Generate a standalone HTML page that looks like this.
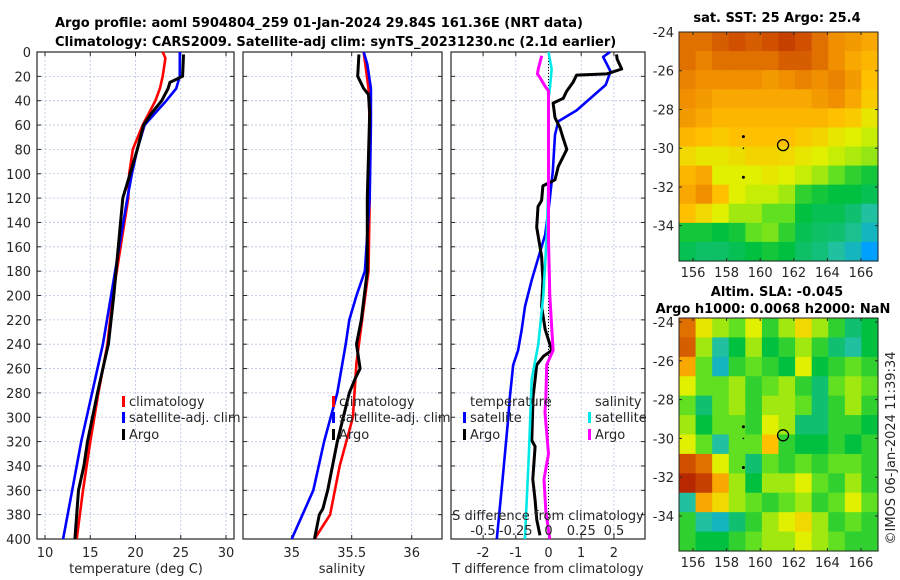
<!DOCTYPE html>
<html><head><meta charset="utf-8"><style>
body{margin:0;background:#fff;}
svg{display:block;font-family:"DejaVu Sans","Liberation Sans",sans-serif;}
</style></head><body>
<svg id="c" width="900" height="580" viewBox="0 0 900 580"></svg>
<script>
// ---------- data ----------
const depthTicks=[0,20,40,60,80,100,120,140,160,180,200,220,240,260,280,300,320,340,360,380,400];
const tempTicks=[10,15,20,25,30];
const salTicks=[35,35.5,36];
const tdiffTicks=[-2,-1,0,1,2];
const sdiffTicks=[-0.5,-0.25,0,0.25,0.5];
const sdiffTickLabels=["-0.5","-0.25","0","0.25","0.5"];
const lonTicks=[156,158,160,162,164,166];
const latTicks=[-24,-26,-28,-30,-32,-34];

const climTDepth=[0,5,20,30,40,50,60,80,100,120,200,240,280,320,360,400];
const climT=[23.0,23.3,23.0,22.7,22.2,21.5,20.8,19.7,19.3,19.2,17.5,16.9,15.9,15.0,14.2,13.5];
const satTDepth=[0,20,30,40,50,60,80,100,120,200,240,280,320,360,400];
const satT=[24.9,24.9,24.5,23.4,22.2,21.0,20.2,19.6,19.1,17.3,16.4,15.2,14.0,13.0,12.0];
const argoTDepth=[2,20,25,30,40,50,60,80,100,120,160,200,240,250,280,320,340,360,380,400];
const argoT=[25.3,25.2,23.8,23.6,22.9,21.8,20.9,20.2,19.4,18.6,18.1,17.6,17.0,16.7,15.8,14.7,14.3,13.7,13.5,13.3];

const climSDepth=[0,30,60,120,180,255,300,340,380,400];
const climS=[35.6,35.64,35.65,35.65,35.64,35.54,35.51,35.40,35.32,35.19];
const satSDepth=[0,10,30,60,120,180,200,220,240,280,320,360,380,400];
const satS=[35.6,35.63,35.66,35.66,35.65,35.61,35.54,35.48,35.45,35.38,35.27,35.18,35.09,35.0];
const argoSDepth=[2,20,30,35,50,120,180,220,240,260,268,280,320,360,375,380,400];
const argoS=[35.56,35.55,35.6,35.64,35.65,35.63,35.63,35.58,35.54,35.57,35.53,35.48,35.38,35.3,35.26,35.23,35.19];

const satTdDepth=[0,4,16,27,48,57,68,98,125,150,187,209,228,245,257,283,300,350,400];
const satTd=[1.88,1.67,1.9,1.75,0.86,0.3,0.2,0.13,0.02,-0.1,-0.51,-0.72,-0.82,-0.93,-1.08,-1.18,-1.23,-1.4,-1.58];
const argoTdDepth=[2,6,14,18,19,25,32,38,42,54,62,71,80,94,105,110,122,127,144,168,187,209,228,245,250,257,269,283,319,324,351,368,384,397];
const argoTd=[2.08,2.1,2.24,1.78,0.86,0.75,0.56,0.45,0.14,0.2,0.35,0.45,0.56,0.3,0.2,-0.17,-0.21,-0.32,-0.36,-0.21,-0.17,-0.21,-0.1,0.1,-0.16,-0.36,-0.41,-0.47,-0.51,-0.41,-0.48,-0.41,-0.36,-0.26];
const satSdDepth=[0,14,28,38,98,152,200,240,269,330,400];
const satSd=[0,0.024,0.012,0,0.002,-0.014,-0.04,-0.078,-0.128,-0.15,-0.18];
const argoSdDepth=[3,14,18,21,28,32,72,154,200,245,257,283,296,330,351,378,400];
const argoSd=[-0.052,-0.078,-0.085,-0.065,-0.027,0,0,0,0.01,0.035,-0.014,-0.02,-0.027,0,-0.034,-0.02,0.01];

const sstGrid=[
[.85,.85,.88,.9,.88,.9,.92,.9,.85,.8,.78,.75],
[.85,.82,.85,.85,.85,.85,.88,.88,.85,.8,.75,.72],
[.82,.8,.8,.8,.8,.78,.8,.82,.8,.82,.78,.7],
[.8,.78,.75,.75,.75,.75,.75,.75,.78,.8,.75,.68],
[.78,.75,.72,.72,.72,.72,.72,.72,.72,.7,.68,.62],
[.72,.7,.68,.7,.7,.7,.7,.68,.66,.62,.6,.58],
[.65,.62,.62,.64,.66,.66,.65,.62,.6,.58,.56,.54],
[.72,.75,.6,.6,.6,.62,.6,.58,.55,.5,.45,.42],
[.75,.8,.7,.6,.58,.58,.55,.45,.42,.4,.4,.38],
[.7,.65,.6,.55,.55,.5,.5,.4,.38,.38,.35,.3],
[.42,.42,.4,.42,.5,.52,.45,.38,.36,.35,.32,.25],
[.38,.36,.36,.38,.4,.42,.4,.36,.34,.3,.25,.15]];
const slaGrid=[
[.85,.62,.55,.5,.6,.45,.55,.65,.55,.45,.35,.4],
[.88,.55,.3,.4,.55,.4,.45,.55,.45,.35,.3,.4],
[.75,.5,.25,.45,.5,.45,.4,.6,.4,.45,.5,.45],
[.6,.5,.5,.55,.45,.5,.55,.45,.35,.5,.55,.5],
[.5,.35,.5,.55,.45,.55,.55,.5,.35,.45,.55,.45],
[.55,.4,.5,.5,.45,.6,.55,.35,.35,.45,.45,.4],
[.6,.5,.3,.5,.5,.7,.45,.4,.4,.45,.4,.45],
[.9,.85,.6,.5,.35,.5,.45,.5,.45,.5,.5,.45],
[.95,.92,.75,.55,.4,.55,.55,.6,.5,.45,.55,.45],
[.3,.75,.65,.55,.5,.45,.5,.55,.45,.5,.6,.5],
[.45,.3,.25,.35,.45,.55,.6,.65,.55,.45,.5,.45],
[.45,.4,.4,.45,.5,.55,.55,.6,.55,.5,.45,.45]];
const argoLon=161.36, argoLat=-29.84;
const nearLon=[159,159,159], nearLat=[-29.4,-30,-31.5];

// ---------- helpers ----------
const NS="http://www.w3.org/2000/svg";
const svg=document.getElementById('c');
function mk(tag,attrs,parent){const e=document.createElementNS(NS,tag);for(const k in attrs)e.setAttribute(k,attrs[k]);(parent||svg).appendChild(e);return e;}
function txt(s,x,y,attrs){const e=mk('text',Object.assign({x:x,y:y,'font-size':13,fill:'#262626'},attrs||{}));e.textContent=s;return e;}
const yD=d=>52+d*1.2175;
const xT=v=>45+(v-10)*9.05;
const xS=v=>291.7+(v-35)*120;
const xTd=v=>548.5+v*32.7;
const xSd=v=>548.5+v*131;

function panel(name,x0,x1,ticks,xf,labels,showY){
  const g=mk('g',{});
  
  
  depthTicks.forEach(d=>{const y=yD(d);
    mk('line',{x1:x0,x2:x1,y1:y,y2:y,stroke:'#b8c4e4','stroke-width':0.8,'stroke-dasharray':'2,2'},g);
    mk('line',{x1:x0,x2:x0+4,y1:y,y2:y,stroke:'#262626','stroke-width':1},g);
    mk('line',{x1:x1-4,x2:x1,y1:y,y2:y,stroke:'#262626','stroke-width':1},g);
    if(showY){const t=txt(String(d),x0-6,y+5,{'text-anchor':'end'});}
  });
  ticks.forEach((v,i)=>{const x=xf(v);
    mk('line',{x1:x,x2:x,y1:52,y2:539,stroke:'#b8c4e4','stroke-width':0.8,'stroke-dasharray':'2,2'},g);
    mk('line',{x1:x,x2:x,y1:539,y2:535,stroke:'#262626'},g);
    mk('line',{x1:x,x2:x,y1:52,y2:56,stroke:'#262626'},g);
    const t=txt(labels?labels[i]:String(v),x,557,{'text-anchor':'middle'});
    
  });
  mk('rect',{x:x0,y:52,width:x1-x0,height:487,fill:'none',stroke:'#262626','stroke-width':1.2},g);
  return g;
}
function series(name,depths,vals,xf,color,w){
  const p=depths.map((d,i)=>xf(vals[i]).toFixed(1)+','+yD(d).toFixed(1)).join(' ');
  const e=mk('polyline',{points:p,fill:'none',stroke:color,'stroke-width':w||2.6,'stroke-linejoin':'round'});
  
  
}
function legend(x,y,color,label,name){
  const g=mk('g',{});
  
  
  mk('rect',{x:x-7,y:y-10,width:3,height:11,fill:color},g);
  g.appendChild(txt(label,x,y));
}

// ---------- titles ----------
let t=txt('Argo profile: aoml 5904804_259 01-Jan-2024 29.84S 161.36E (NRT data)',55,27,{'font-weight':'bold',fill:'#000'});

t=txt('Climatology: CARS2009. Satellite-adj clim: synTS_20231230.nc (2.1d earlier)',55,46,{'font-weight':'bold',fill:'#000'});


// ---------- panel 1 ----------
panel('temperature-panel',37,234,tempTicks,xT,null,true);
series('climatology-temperature-line',climTDepth,climT,xT,'#ff0000');
series('satellite-temperature-line',satTDepth,satT,xT,'#0000ff');
series('argo-temperature-line',argoTDepth,argoT,xT,'#000000',3);
t=txt('temperature (deg C)',136,573,{'text-anchor':'middle'});
legend(129,406,'#ff0000','climatology','legend-climatology');
legend(129,422,'#0000ff','satellite-adj. clim','legend-satellite');
legend(129,439,'#000000','Argo','legend-argo');

// ---------- panel 2 ----------
panel('salinity-panel',243,442,salTicks,xS,null,false);
series('climatology-salinity-line',climSDepth,climS,xS,'#ff0000');
series('satellite-salinity-line',satSDepth,satS,xS,'#0000ff');
series('argo-salinity-line',argoSDepth,argoS,xS,'#000000',3);
t=txt('salinity',342,573,{'text-anchor':'middle'});
legend(339,406,'#ff0000','climatology','legend-climatology-s');
legend(339,422,'#0000ff','satellite-adj. clim','legend-satellite-s');
legend(339,439,'#000000','Argo','legend-argo-s');

// ---------- panel 3 ----------
panel('difference-panel',451,645,tdiffTicks,xTd,null,false);
const zl=mk('line',{x1:xTd(0),x2:xTd(0),y1:52,y2:539,stroke:'#000','stroke-width':1,'stroke-dasharray':'1,2'});

series('satellite-tdiff-line',satTdDepth,satTd,xTd,'#0000ff');
series('argo-tdiff-line',argoTdDepth,argoTd,xTd,'#000000',3);
series('satellite-sdiff-line',satSdDepth,satSd,xSd,'#00e8e8');
series('argo-sdiff-line',argoSdDepth,argoSd,xSd,'#ff00ff',3);
sdiffTicks.forEach((v,i)=>{const e=txt(sdiffTickLabels[i],xSd(v),535,{'text-anchor':'middle'});});
t=txt('S difference from climatology',548,520,{'text-anchor':'middle'});
t=txt('T difference from climatology',548,573,{'text-anchor':'middle'});
t=txt('temperature',470,406);
t=txt('salinity',595,406);
legend(470,422,'#0000ff','satellite','legend-t-satellite');
legend(470,439,'#000000','Argo','legend-t-argo');
legend(595,422,'#00e8e8','satellite','legend-s-satellite');
legend(595,439,'#ff00ff','Argo','legend-s-argo');

// ---------- maps ----------
const stops=[[0,[0,32,192]],[.15,[0,160,255]],[.3,[32,192,160]],[.4,[0,192,64]],[.5,[96,224,32]],[.6,[224,240,0]],[.7,[255,192,0]],[.8,[240,144,0]],[.9,[208,80,0]],[1,[160,0,0]]];
function cmap(v){for(let i=1;i<stops.length;i++){if(v<=stops[i][0]){const a=stops[i-1],b=stops[i],f=(v-a[0])/(b[0]-a[0]);return 'rgb('+a[1].map((c,k)=>Math.round(c+(b[1][k]-c)*f)).join(',')+')';}}return 'rgb(160,0,0)';}
function map(name,grid,top,bottom,lat24y,latScale){
  const x0=679,x1=878;
  const g=mk('g',{});
  
  
  const rows=grid.length,cols=grid[0].length,cw=(x1-x0)/cols,ch=(bottom-top)/rows;
  grid.forEach((row,r)=>row.forEach((v,c)=>{
    const e=mk('rect',{x:x0+c*cw,y:top+r*ch,width:cw+0.6,height:ch+0.6,fill:cmap(v)},g);
    
    
  }));
  const lx=lon=>693+(lon-156)*16.8, ly=lat=>lat24y+(-24-lat)*latScale;
  mk('rect',{x:x0,y:top,width:x1-x0,height:bottom-top,fill:'none',stroke:'#262626','stroke-width':1},g);
  lonTicks.forEach(l=>{const x=lx(l);mk('line',{x1:x,x2:x,y1:bottom,y2:bottom-3,stroke:'#262626'},g);mk('line',{x1:x,x2:x,y1:top,y2:top+3,stroke:'#262626'},g);
    const e=txt(String(l),x,bottom+16,{'text-anchor':'middle'});g.appendChild(e);});
  latTicks.forEach(l=>{const y=ly(l);mk('line',{x1:x0,x2:x0+3,y1:y,y2:y,stroke:'#262626'},g);mk('line',{x1:x1-3,x2:x1,y1:y,y2:y,stroke:'#262626'},g);
    const e=txt(String(l),674,y+5,{'text-anchor':'end'});g.appendChild(e);});
  nearLon.forEach((l,i)=>{const e=mk('circle',{cx:lx(l),cy:ly(nearLat[i]),r:i==1?0.8:1.5,fill:'#000'},g);});
  const m=mk('circle',{cx:lx(argoLon),cy:ly(argoLat),r:5.5,fill:'none',stroke:'#000','stroke-width':1.3},g);
  
}
map('sst-map',sstGrid,32,261,32,19.37);
map('sla-map',slaGrid,318,551,322,19.4);
t=txt('sat. SST: 25 Argo: 25.4',777,22,{'text-anchor':'middle','font-weight':'bold',fill:'#000'});
t=txt('Altim. SLA: -0.045',777,296,{'text-anchor':'middle','font-weight':'bold',fill:'#000'});
t=txt('Argo h1000: 0.0068 h2000: NaN',773,313,{'text-anchor':'middle','font-weight':'bold',fill:'#000'});
t=txt('©IMOS 06-Jan-2024 11:39:34',0,0,{'text-anchor':'middle',transform:'translate(895,448) rotate(-90)'});
</script>
</body></html>
